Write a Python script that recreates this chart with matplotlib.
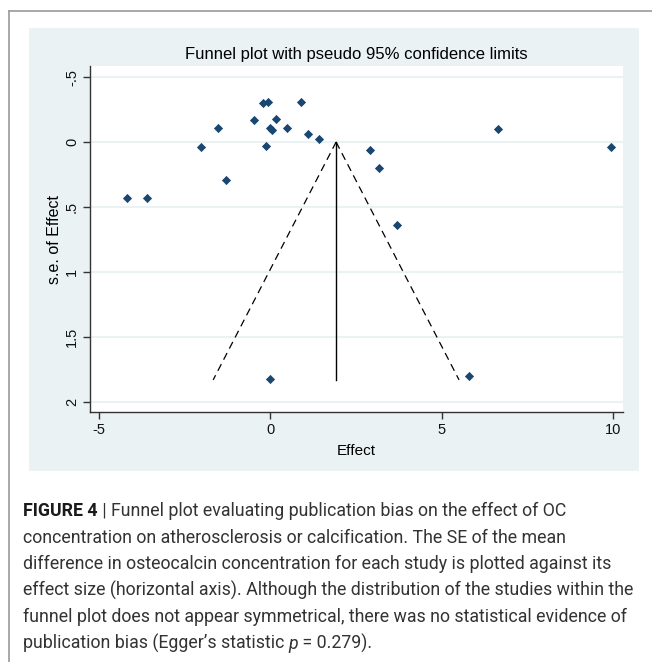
#Funnel plot recreated with matplotlib
import matplotlib
matplotlib.use("Agg")
import matplotlib.pyplot as plt
import numpy as np
from matplotlib.patches import Rectangle
from matplotlib.lines import Line2D

#study values
effect = [-4.18, -3.61, -2.01, -1.54, -1.28, -0.47, -0.22, -0.08, -0.13, 0.0, 0.05,
          0.17, 0.50, 0.91, 1.10, 1.42, 0.0, 6.64, 9.94, 2.90, 3.18, 3.71, 5.80]
se_effect = [0.433, 0.433, 0.036, -0.105, 0.292, -0.172, -0.298, -0.305, 0.031, -0.105, -0.095,
             -0.179, -0.105, -0.305, -0.064, -0.023, 1.825, -0.098, 0.036, 0.062, 0.20, 0.638, 1.80]
pooled_effect = 1.92
funnel_se = [0.0, 1.83]

x_ticks = [-5, 0, 5, 10]
x_tick_labels = ["-5", "0", "5", "10"]
y_ticks = [-0.5, 0, 0.5, 1, 1.5, 2]
y_tick_labels = ["-.5", "0", ".5", "1", "1.5", "2"]

caption_lines = [
    "concentration on atherosclerosis or calcification. The SE of the mean",
    "difference in osteocalcin concentration for each study is plotted against its",
    "effect size (horizontal axis). Although the distribution of the studies within the",
    "funnel plot does not appear symmetrical, there was no statistical evidence of",
]

W, H = 652, 662
fig = plt.figure(figsize=(W / 100, H / 100), dpi=100)
fig.patch.set_facecolor("white")

#outer frame (top and left only)
fig.add_artist(Line2D([9 / W, 1], [1 - 11 / H, 1 - 11 / H], color="#9a9a9a", lw=1.2))
fig.add_artist(Line2D([9 / W, 9 / W], [0, 1 - 11 / H], color="#9a9a9a", lw=1.2))

#stata style light blue panel
fig.add_artist(Rectangle((29 / W, 1 - 471 / H), 610 / W, 443 / H,
                         facecolor="#eaf2f3", edgecolor="none", zorder=0))

ax = fig.add_axes([90 / W, 1 - 412 / H, 533 / W, 346 / H])
ax.set_facecolor("white")
ax.set_zorder(1)

#funnel
se_line = np.array(funnel_se)
ax.plot(pooled_effect - 1.96 * se_line, se_line, color="black", lw=0.9, ls=(0, (6, 4)))
ax.plot(pooled_effect + 1.96 * se_line, se_line, color="black", lw=0.9, ls=(0, (6, 4)))
ax.plot([pooled_effect, pooled_effect], funnel_se, color="black", lw=1.0)

ax.scatter(effect, se_effect, marker="D", s=22, color="#1a476f", zorder=3, linewidths=0)

ax.set_xlim(-5.26, 10.29)
ax.set_ylim(2.077, -0.585)
ax.set_xticks(x_ticks)
ax.set_xticklabels(x_tick_labels)
ax.set_yticks(y_ticks)
ax.set_yticklabels(y_tick_labels, rotation=90, va="center")
ax.grid(axis="y", color="#eaf2f3", lw=1.5)
ax.set_axisbelow(True)

for s in ["top", "right"]:
    ax.spines[s].set_visible(False)
for s in ["left", "bottom"]:
    ax.spines[s].set_color("#333333")
    ax.spines[s].set_linewidth(1.0)
ax.tick_params(direction="out", length=5, width=1.0, color="#333333",
               labelsize=10.5, labelcolor="#111111", pad=3)
for lab in ax.get_xticklabels() + ax.get_yticklabels():
    lab.set_family("Liberation Sans")

ax.set_title("Funnel plot with pseudo 95% confidence limits", fontsize=12,
             family="Liberation Sans", pad=5)
ax.set_xlabel("Effect", fontsize=11, family="Liberation Sans", labelpad=5)
ax.set_ylabel("s.e. of Effect", fontsize=11.5, family="Liberation Sans", labelpad=2)

#caption
cap_font = dict(family="Roboto", fontsize=12.8, fontweight="normal", color="#333333")
x0 = 23 / W
renderer = fig.canvas.get_renderer()

def run(x, y, txt, **kw):
    t = fig.text(x, y, txt, va="baseline", ha="left", **kw)
    bb = t.get_window_extent(renderer=renderer)
    return x + bb.width / W

y = 1 - 516 / H
xx = run(x0, y, "FIGURE 4", **dict(cap_font, fontweight="bold", color="#1a1a1a"))
run(xx, y, " | Funnel plot evaluating publication bias on the effect of OC", **cap_font)
for i, line in enumerate(caption_lines):
    run(x0, 1 - (516 + 26.6 * (i + 1)) / H, line, **cap_font)
y = 1 - (516 + 26.6 * 5) / H
xx = run(x0, y, "publication bias (Egger\u2019s statistic ", **cap_font)
xx = run(xx, y, "p", **dict(cap_font, style="italic"))
run(xx, y, " = 0.279).", **cap_font)

fig.savefig("out.png", dpi=100)
